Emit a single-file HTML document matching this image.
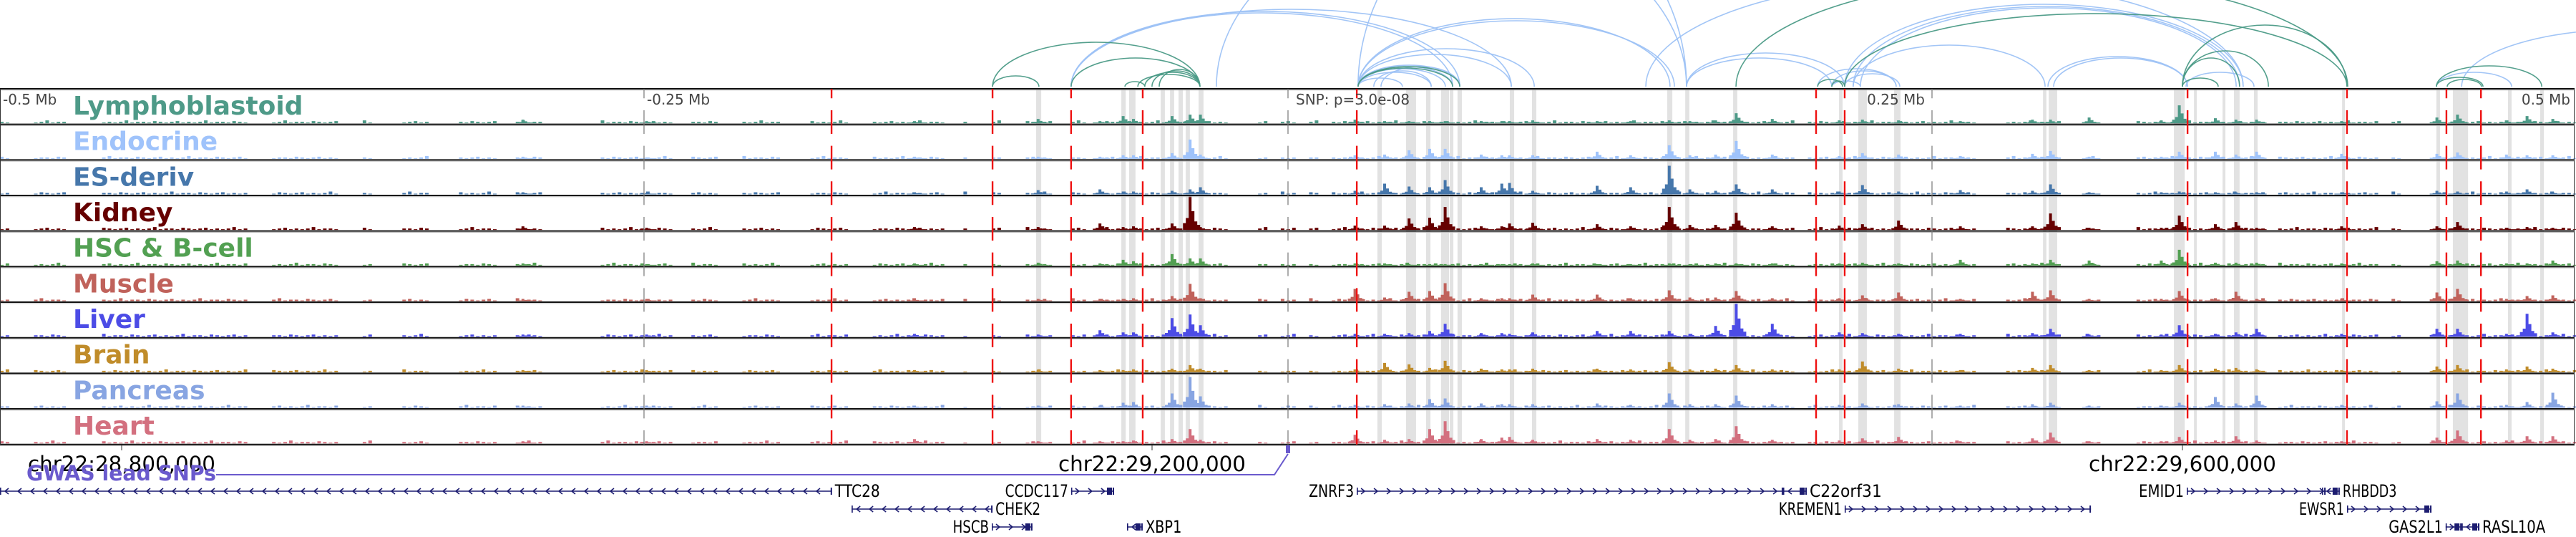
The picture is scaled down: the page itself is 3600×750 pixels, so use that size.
<!DOCTYPE html>
<html><head><meta charset="utf-8">
<style>
html,body{margin:0;padding:0;background:#fff;}
svg{display:block;}
text{font-family:"DejaVu Sans","Liberation Sans",sans-serif;}
</style></head>
<body>
<svg id="chart" xmlns="http://www.w3.org/2000/svg" width="3600" height="750" viewBox="0 0 3600 750">
<g id="arcs"></g>
<g id="bands"></g>
<g id="tracks"></g>
<g id="vlines"></g>
<g id="labels"></g>
<g id="coords"></g>
<g id="genes"></g>
</svg>
<script>
// ---- data ----
const trackNames = ["Lymphoblastoid","Endocrine","ES-deriv","Kidney","HSC & B-cell","Muscle","Liver","Brain","Pancreas","Heart"];
const trackColors = ["#4e9a88","#9fc3fb","#4677ab","#660000","#52a052","#c0625b","#4c4ce6","#c08c2a","#88a5e2","#d3707f"];
const peakPos = [-297,-249,-145,-97,-73,-64,-60,-45,-38,-34,26,37.5,47,55,61,75,83,86,95,120,133,148,156,166,174,188,214,223,237,261,289,296,311,339,346,360,368,376,409,446,454,473,481,491];
const hLymph   = [5,3,3,6,3,10,6,10,12,12,5,3,3,3,3,3,3,3,4,3,3,4,3,4,14,6,4,5,4,3,5,5,8,4,25,7,5,5,3,8,12,4,10,6];
const hEndo    = [3,2,3,3,3,5,5,8,27,6,5,6,12,14,14,6,5,5,5,10,5,19,5,6,25,6,4,8,6,4,7,11,3,3,10,10,6,10,7,7,9,6,5,5];
const hES      = [3,2,3,6,7,4,4,5,7,10,5,15,11,10,20,10,15,16,5,12,10,40,7,5,14,7,4,13,4,6,5,14,3,3,4,3,3,3,3,5,4,4,7,3];
const hKidney  = [5,3,4,4,9,4,5,9,48,4,6,6,16,17,32,5,5,9,10,8,5,32,7,7,24,5,6,8,13,5,5,23,3,3,20,8,11,3,5,5,11,3,4,3];
const hHSC     = [3,2,3,4,3,8,6,16,10,10,3,3,2,2,2,2,2,2,3,2,2,3,2,3,3,3,3,4,3,8,3,8,7,7,22,4,4,4,3,6,7,3,3,7];
const hMuscle  = [3,3,3,3,3,3,4,7,24,4,17,5,13,14,25,4,4,4,9,9,4,15,5,5,14,4,4,8,12,3,13,15,3,3,14,4,13,3,3,12,17,3,7,8];
const hLiver   = [3,3,4,3,9,6,6,26,31,16,4,4,5,8,18,5,5,4,6,8,8,8,4,15,46,18,6,5,4,4,5,11,3,3,16,4,6,11,4,11,11,4,32,6];
const hBrain   = [3,3,3,3,3,3,4,5,10,5,4,13,11,6,16,5,4,4,5,5,4,14,4,5,10,4,4,15,5,3,6,10,3,3,10,5,6,4,3,8,10,4,8,5];
const hPancreas= [3,3,3,3,3,7,8,20,43,16,4,5,6,12,13,6,5,5,5,6,4,20,5,5,17,5,4,6,5,3,5,7,3,3,7,15,6,17,4,9,20,4,8,21];
const hHeart   = [3,3,6,3,3,3,4,6,20,5,12,5,6,20,31,6,8,9,5,6,5,20,5,6,24,5,4,7,9,3,7,15,3,3,9,4,10,4,3,8,18,4,10,10];
const bgPattern = [2,1,2,3,1,2,1,2,4,1,2,2,1,3];
const bgGaps = [[-496,-488],[-474,-462],[-404,-396],[-369,-361],[-356,-344],[-333,-322],[-308,-300],[-289,-267],[-240,-233],[-222,-214],[-197,-186],[-171,-163],[-133,-128],[-124,-117],[-111,-103],[-93,-86],[-78,-74],[-23,-12.5],[-8,-3],[3,7],[11,15],[197,201],[267,278],[300,308],[314,328],[378,383],[422,428],[432,438],[439,443]];
const bandRanges = [[-97.8,-95.8],[-64.7,-63],[-61.7,-59.2],[-49.4,-47.8],[-45.8,-44.2],[-42.5,-40.8],[-39.7,-38.1],[-34.7,-32.8],[34.7,36.4],[45.8,49.7],[53.6,55.3],[59.4,62.5],[62.8,64.2],[65.8,67.5],[86.1,87.8],[94.7,96.4],[147.2,149.2],[154.2,155.8],[172.8,174.4],[213.9,215.3],[221.4,224.7],[235.3,237.8],[293.1,294.4],[295.3,298.6],[343.9,348.1],[351.7,352.8],[362.8,363.9],[367.2,369.4],[375,376.4],[409.2,410.3],[445.8,447.2],[452.2,458.1],[473.6,475],[486.1,487.5]];
const redLines = [-177.2,-114.7,-84.2,-56.4,26.7,205,216.1,349.2,411.1,449.7,463.1];
const axisLines = [-250,0,250];
const blueArcs = [[-84.2,66.7,105],[-84.2,63.9,103],[-84.2,86.7,108],[27.2,148.3,95],[27.2,150,92],[27.2,154.7,260],[27.2,95.6,53],[27.2,86.7,45],[27.2,66.7,30],[27.2,63.9,28],[27.2,61.1,25],[27.2,55.6,20],[27.2,44.4,12],[33.3,55.6,22],[36.1,66.7,28],[-27.8,154.7,240],[154.7,216.1,47],[154.7,211.1,40],[205.6,236.1,25],[211.1,236.1,22],[216.1,237.5,18],[211.1,222.2,8],[216.1,370.8,115],[219.4,369.4,112],[222.2,368.1,110],[219.4,293.9,58],[295,349.2,42],[297.2,349.2,40],[348.6,375,20],[445.8,475,20],[455.6,583.3,80],[138.9,370.8,150]];
const tealArcs = [[-114.7,-96.7,15],[-114.7,-34.2,62],[-84.2,-34.2,40],[-63.3,-55.6,7],[-58.3,-34.2,17],[-55.6,-34.2,20],[-52.8,-34.2,22],[-50,-34.2,24],[27.2,66.7,28],[27.2,63.9,26],[173.9,411.4,152],[216.1,411.1,102],[347.2,411.1,86],[347.2,380.6,50],[347.2,369.4,40],[347.2,361.1,12],[205.6,215.3,10],[211.1,216.1,8],[445.8,486.7,29],[445.8,463.9,13],[450,463.3,10]];
const geneNames = ["TTC28","CCDC117","ZNRF3","C22orf31","EMID1","RHBDD3","CHEK2","KREMEN1","EWSR1","HSCB","XBP1","GAS2L1","RASL10A"];
const geneStart = [-500,-84.2,26.7,192.2,348.9,401.4,-169.4,216.1,411.1,-115,-62.5,449.4,455.6];
const geneEnd   = [-177,-67.5,192.2,201.4,402.8,408.3,-114.7,311.7,443.9,-99.2,-56.4,455.6,462.5];
const geneStrand= [-1,1,1,-1,1,-1,-1,1,1,1,-1,1,-1];
const geneRow   = [0,0,0,0,0,0,1,1,1,2,2,2,2];
const geneLabelSide=["R","L","L","R","L","R","R","L","L","L","R","L","R"];
const coordTicks = [-452.78,-52.78,347.22];
const coordLabels = ["chr22:28,800,000","chr22:29,200,000","chr22:29,600,000"];
const mbTicks = [-500,-250,250,500];
const mbLabels = ["-0.5 Mb","-0.25 Mb","0.25 Mb","0.5 Mb"];
const snpKb = 0;

// ---- scales ----
const NS="http://www.w3.org/2000/svg";
const x = kb => 1800 + kb*3.6;
const TOP=124, TH=49.67, NT=10;
function mk(tag, attrs, parent){const e=document.createElementNS(NS,tag);for(const k in attrs)e.setAttribute(k,attrs[k]);parent.appendChild(e);return e;}
const heights=[hLymph,hEndo,hES,hKidney,hHSC,hMuscle,hLiver,hBrain,hPancreas,hHeart];

// arcs
const gA=document.getElementById('arcs');
function drawArc(a,color,w,name){
  const x1=x(a[0]),x2=x(a[1]),rx=(x2-x1)/2;
  const p=mk('path',{d:`M${x1},121 A${rx},${a[2]} 0 0 1 ${x2},121`,fill:'none',stroke:color,'stroke-width':w,'stroke-opacity':0.95},gA);
  
  
}
blueArcs.forEach(a=>drawArc(a,'#9dc2f6',1.6,'endocrine-arc'));
tealArcs.forEach(a=>drawArc(a,'#4a9a86',1.6,'lymphoblastoid-arc'));

// bands
const gB=document.getElementById('bands');
bandRanges.forEach(r=>{
  const e=mk('rect',{x:x(r[0]),y:TOP,width:Math.max(3,x(r[1])-x(r[0])),height:TH*NT,fill:'#e2e2e2'},gB);
  
  
});

// tracks
const gT=document.getElementById('tracks');
function inGap(kb){return bgGaps.some(g=>kb>=g[0]&&kb<=g[1]);}
for(let t=0;t<NT;t++){
  const top=TOP+t*TH, bot=top+TH-1.5;
  const g=mk('g',{},gT);
  
  
  let d='';
  let i=0;
  for(let kb=-500;kb<500;kb+=2.2,i++){
    if(inGap(kb)) continue;
    const h=bgPattern[(i+t*3)%bgPattern.length];
    d+=`M${x(kb).toFixed(1)},${bot}h5v${-h}h-5z`;
  }
  const hs=heights[t];
  peakPos.forEach((p,k)=>{
    const h=Math.min(hs[k],TH-2), cx=x(p);
    const parts=[[0,h],[-4,h*0.35],[4,h*0.55],[-8,h*0.2],[8,h*0.25],[12,h*0.15]];
    parts.forEach(q=>{const hh=Math.max(1,q[1]);d+=`M${(cx+q[0]-2).toFixed(1)},${bot}h4v${-hh.toFixed(1)}h-4z`;});
  });
  const path=mk('path',{d:d,fill:trackColors[t]},g);
  
  
}
for(let t=0;t<=NT;t++){
  const y=TOP+t*TH;
  const l=mk('line',{x1:0,x2:3598,y1:y,y2:y,stroke:'#111','stroke-width':2},gT);
  
  
  mk('line',{x1:0,x2:3598,y1:y+1.8,y2:y+1.8,stroke:'#bbb','stroke-width':1},gT);
}
mk('line',{x1:0.5,x2:0.5,y1:TOP,y2:TOP+TH*NT,stroke:'#333','stroke-width':1},gT);
mk('line',{x1:3597.5,x2:3597.5,y1:TOP,y2:TOP+TH*NT,stroke:'#333','stroke-width':1},gT);

// vertical lines
const gV=document.getElementById('vlines');
axisLines.forEach(kb=>{
  const l=mk('line',{x1:x(kb),x2:x(kb),y1:TOP,y2:TOP+TH*NT,stroke:'#777','stroke-width':1.2,'stroke-dasharray':'33 16.67','stroke-dashoffset':19.7},gV);
  
  
});
redLines.forEach(kb=>{
  const l=mk('line',{x1:x(kb),x2:x(kb),y1:TOP,y2:TOP+TH*NT,stroke:'#ee1111','stroke-width':2.4,'stroke-dasharray':'33 16.67','stroke-dashoffset':19.7},gV);
  
  
});

// track labels
const gL=document.getElementById('labels');
trackNames.forEach((n,t)=>{
  const e=mk('text',{x:102,y:TOP+t*TH+36,fill:trackColors[t],'font-size':36,'font-weight':'bold'},gL);
  e.textContent=n;
  
  
});

// coords
const gC=document.getElementById('coords');
mbTicks.forEach((kb,i)=>{
  const anchor = i<2?'start':'end';
  const xx = i===0?4:(i===1?x(kb)+4:(i===2?x(kb)-10:3592));
  const e=mk('text',{x:xx,y:146,fill:'#444','font-size':20,'text-anchor':anchor},gC);
  e.textContent=mbLabels[i];
  
  
});
{const e=mk('text',{x:x(snpKb)+11,y:146,fill:'#444','font-size':20},gC);e.textContent='SNP: p=3.0e-08';

}
coordTicks.forEach((kb,i)=>{
  mk('line',{x1:x(kb),x2:x(kb),y1:621,y2:629,stroke:'#333','stroke-width':1},gC);
  const e=mk('text',{x:x(kb),y:658,fill:'#000','font-size':29,'text-anchor':'middle',textLength:262,lengthAdjust:'spacingAndGlyphs',
    'font-family':'"Liberation Sans",sans-serif'},gC);
  e.textContent=coordLabels[i];
  
  
});
{
  const e=mk('text',{x:37,y:671,fill:'#6a5acd','font-size':29,'font-weight':'bold',textLength:265,lengthAdjust:'spacingAndGlyphs'},gC);
  e.textContent='GWAS lead SNPs';
  
  
  const p=mk('path',{d:`M302,663 H${x(snpKb)-19} L${x(snpKb)},634`,fill:'none',stroke:'#6a5acd','stroke-width':2},gC);
  
  
  const r=mk('rect',{x:x(snpKb)-3,y:622,width:6,height:11,fill:'#6a5acd'},gC);
  
  
}

// genes
const gG=document.getElementById('genes');
const rowY=[686,711,736];
geneNames.forEach((n,i)=>{
  const x1=x(geneStart[i]),x2=x(geneEnd[i]),y=rowY[geneRow[i]];
  const g=mk('g',{},gG);
  
  
  let d=`M${x1},${y}H${x2}`;
  for(let cx=x1+9;cx<x2-4;cx+=18){
    if(geneStrand[i]>0) d+=`M${cx-3},${y-4}L${cx+2},${y}L${cx-3},${y+4}`;
    else d+=`M${cx+3},${y-4}L${cx-2},${y}L${cx+3},${y+4}`;
  }
  mk('path',{d:d,fill:'none',stroke:'#1c1c70','stroke-width':1.6},g);
  mk('rect',{x:x1,y:y-5,width:1.6,height:10,fill:'#1c1c70'},g);
  mk('rect',{x:x2-2,y:y-5,width:2,height:10,fill:'#1c1c70'},g);
  if(x2-x1<120) mk('rect',{x:x2-10,y:y-5,width:7,height:10,fill:'#1c1c70'},g);
  const side=geneLabelSide[i];
  const t=mk('text',{x: side==='L'? x1-4 : x2+4, y:y+8,'font-size':24,fill:'#000','text-anchor': side==='L'?'end':'start',
    'font-family':'"Liberation Sans",sans-serif',textLength:n.length*12.6,lengthAdjust:'spacingAndGlyphs'},g);
  t.textContent=n;
  
  
});
</script>
</body></html>
